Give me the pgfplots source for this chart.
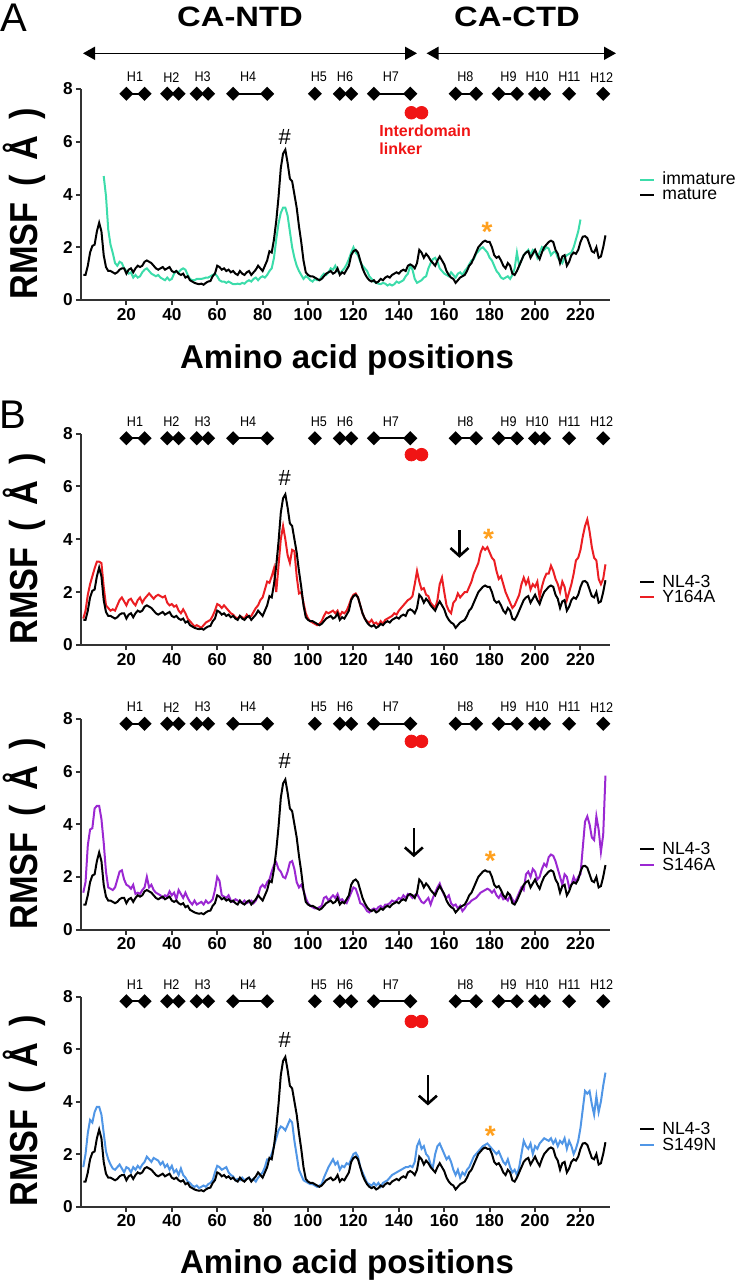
\documentclass[border=0pt]{standalone}
\usepackage{pgfplots}
\pgfplotsset{compat=1.18}
\usepackage{pgfplotstable}
\usepackage{fontspec}
\setmainfont{Liberation Sans}
\usepackage{graphicx}
\usetikzlibrary{arrows.meta}

\definecolor{tealc}{RGB}{60,220,170}
\definecolor{mutred}{RGB}{235,30,35}
\definecolor{mutpurple}{RGB}{155,40,210}
\definecolor{mutblue}{RGB}{80,150,230}
\definecolor{starorange}{RGB}{255,160,30}
\definecolor{axgray}{RGB}{50,50,50}
\definecolor{linkred}{RGB}{240,20,20}

\pgfplotstableread[row sep=\\]{
x y\\
1 0.95\\ 2 0.95\\ 3 1.3\\ 4 1.8\\ 5 2.05\\ 6 2.1\\ 7 2.6\\ 8 2.93\\ 9 2.6\\ 10 1.7\\
11 1.25\\ 12 1.1\\ 13 1.1\\ 14 1.05\\ 15 1.0\\ 16 1.05\\ 17 1.15\\ 18 1.2\\ 19 1.2\\ 20 1.0\\
21 1.15\\ 22 1.2\\ 23 1.05\\ 24 1.2\\ 25 1.3\\ 26 1.25\\ 27 1.3\\ 28 1.45\\ 29 1.5\\ 30 1.45\\
31 1.4\\ 32 1.3\\ 33 1.2\\ 34 1.15\\ 35 1.2\\ 36 1.25\\ 37 1.15\\ 38 1.2\\ 39 1.25\\ 40 1.1\\
41 1.05\\ 42 1.1\\ 43 1.0\\ 44 0.95\\ 45 1.0\\ 46 0.85\\ 47 0.9\\ 48 0.75\\ 49 0.7\\ 50 0.65\\
51 0.62\\ 52 0.6\\ 53 0.62\\ 54 0.58\\ 55 0.65\\ 56 0.7\\ 57 0.72\\ 58 0.9\\ 59 1.0\\ 60 1.3\\
61 1.25\\ 62 1.15\\ 63 1.2\\ 64 1.1\\ 65 1.15\\ 66 1.05\\ 67 1.1\\ 68 1.0\\ 69 0.95\\ 70 1.1\\
71 1.0\\ 72 0.95\\ 73 1.05\\ 74 1.1\\ 75 0.95\\ 76 1.05\\ 77 1.15\\ 78 1.3\\ 79 1.2\\ 80 1.1\\
81 1.3\\ 82 1.5\\ 83 1.85\\ 84 1.8\\ 85 2.3\\ 86 3.0\\ 87 3.9\\ 88 5.0\\ 89 5.55\\ 90 5.7\\
91 5.2\\ 92 4.6\\ 93 4.5\\ 94 4.0\\ 95 3.5\\ 96 2.8\\ 97 2.2\\ 98 1.5\\ 99 1.05\\ 100 0.95\\
101 0.9\\ 102 0.9\\ 103 0.85\\ 104 0.8\\ 105 0.75\\ 106 0.8\\ 107 0.9\\ 108 1.0\\ 109 1.05\\ 110 1.1\\
111 1.0\\ 112 1.05\\ 113 1.2\\ 114 0.95\\ 115 1.05\\ 116 1.0\\ 117 1.15\\ 118 1.3\\ 119 1.7\\ 120 1.85\\
121 1.9\\ 122 1.8\\ 123 1.5\\ 124 1.2\\ 125 1.0\\ 126 0.85\\ 127 0.75\\ 128 0.7\\ 129 0.75\\ 130 0.65\\
131 0.7\\ 132 0.8\\ 133 0.75\\ 134 0.85\\ 135 0.9\\ 136 0.85\\ 137 0.95\\ 138 1.0\\ 139 1.05\\ 140 1.0\\
141 1.1\\ 142 1.15\\ 143 1.1\\ 144 1.3\\ 145 1.35\\ 146 1.3\\ 147 1.2\\ 148 1.4\\ 149 1.9\\ 150 1.8\\
151 1.6\\ 152 1.75\\ 153 1.65\\ 154 1.5\\ 155 1.4\\ 156 1.3\\ 157 1.5\\ 158 1.65\\ 159 1.5\\ 160 1.35\\
161 1.1\\ 162 0.95\\ 163 0.85\\ 164 0.8\\ 165 0.65\\ 166 0.75\\ 167 0.85\\ 168 0.9\\ 169 0.95\\ 170 1.1\\
171 1.3\\ 172 1.4\\ 173 1.6\\ 174 1.8\\ 175 2.0\\ 176 2.1\\ 177 2.2\\ 178 2.25\\ 179 2.2\\ 180 2.2\\
181 2.0\\ 182 1.7\\ 183 1.6\\ 184 1.65\\ 185 1.5\\ 186 1.3\\ 187 1.2\\ 188 1.4\\ 189 1.3\\ 190 1.0\\
191 0.95\\ 192 1.1\\ 193 1.3\\ 194 1.5\\ 195 1.7\\ 196 1.8\\ 197 1.85\\ 198 1.6\\ 199 1.75\\ 200 1.9\\
201 1.7\\ 202 1.55\\ 203 1.8\\ 204 2.0\\ 205 2.1\\ 206 2.2\\ 207 2.25\\ 208 2.2\\ 209 1.9\\ 210 1.75\\
211 1.4\\ 212 1.65\\ 213 1.7\\ 214 1.3\\ 215 1.45\\ 216 1.7\\ 217 1.8\\ 218 1.75\\ 219 1.9\\ 220 2.2\\
221 2.4\\ 222 2.42\\ 223 2.35\\ 224 2.1\\ 225 1.85\\ 226 1.8\\ 227 2.0\\ 228 1.6\\ 229 1.65\\ 230 2.0\\
231 2.45\\
}\tabmature

\pgfplotstableread[row sep=\\]{
x y\\
10 4.7\\ 11 3.95\\ 12 2.67\\ 13 2.1\\ 14 1.78\\ 15 1.4\\ 16 1.3\\ 17 1.45\\ 18 1.4\\ 19 1.2\\ 20 1.1\\
21 1.0\\ 22 1.05\\ 23 0.85\\ 24 0.95\\ 25 0.85\\ 26 0.9\\ 27 1.05\\ 28 1.15\\ 29 1.2\\ 30 1.1\\
31 1.0\\ 32 0.95\\ 33 0.9\\ 34 0.95\\ 35 0.85\\ 36 0.8\\ 37 0.75\\ 38 0.85\\ 39 0.75\\ 40 0.8\\
41 1.0\\ 42 1.1\\ 43 1.05\\ 44 1.15\\ 45 1.2\\ 46 1.15\\ 47 0.95\\ 48 0.8\\ 49 0.75\\ 50 0.75\\
51 0.8\\ 52 0.8\\ 53 0.8\\ 54 0.82\\ 55 0.85\\ 56 0.85\\ 57 0.9\\ 58 0.95\\ 59 1.0\\ 60 0.9\\
61 0.75\\ 62 0.7\\ 63 0.7\\ 64 0.65\\ 65 0.7\\ 66 0.65\\ 67 0.6\\ 68 0.6\\ 69 0.62\\ 70 0.6\\
71 0.65\\ 72 0.62\\ 73 0.7\\ 74 0.75\\ 75 0.7\\ 76 0.8\\ 77 0.85\\ 78 0.75\\ 79 0.85\\ 80 0.9\\
81 0.85\\ 82 0.95\\ 83 1.1\\ 84 1.2\\ 85 1.6\\ 86 2.3\\ 87 2.9\\ 88 3.3\\ 89 3.5\\ 90 3.5\\
91 3.2\\ 92 2.6\\ 93 2.0\\ 94 1.6\\ 95 1.3\\ 96 1.1\\ 97 0.95\\ 98 0.8\\ 99 0.9\\ 100 0.85\\
101 0.75\\ 102 0.7\\ 103 0.8\\ 104 0.75\\ 105 0.75\\ 106 0.9\\ 107 1.0\\ 108 0.95\\ 109 1.05\\ 110 1.2\\
111 1.15\\ 112 1.3\\ 113 1.1\\ 114 1.0\\ 115 1.1\\ 116 1.2\\ 117 1.35\\ 118 1.55\\ 119 1.8\\ 120 2.0\\
121 1.8\\ 122 1.7\\ 123 1.45\\ 124 1.3\\ 125 1.2\\ 126 1.1\\ 127 0.9\\ 128 0.8\\ 129 0.7\\ 130 0.65\\
131 0.62\\ 132 0.6\\ 133 0.65\\ 134 0.62\\ 135 0.55\\ 136 0.6\\ 137 0.55\\ 138 0.6\\ 139 0.7\\ 140 0.65\\
141 0.7\\ 142 0.75\\ 143 0.9\\ 144 1.0\\ 145 1.3\\ 146 1.15\\ 147 0.8\\ 148 0.65\\ 149 0.7\\ 150 0.75\\
151 0.85\\ 152 0.9\\ 153 1.2\\ 154 1.4\\ 155 1.55\\ 156 1.6\\ 157 1.45\\ 158 1.2\\ 159 1.1\\ 160 1.0\\
161 0.95\\ 162 0.9\\ 163 1.05\\ 164 0.95\\ 165 0.85\\ 166 1.0\\ 167 1.05\\ 168 0.95\\ 169 1.1\\ 170 1.2\\
171 1.35\\ 172 1.5\\ 173 1.55\\ 174 1.75\\ 175 1.85\\ 176 1.95\\ 177 2.0\\ 178 1.9\\ 179 1.8\\ 180 1.6\\
181 1.5\\ 182 1.3\\ 183 1.1\\ 184 1.0\\ 185 0.85\\ 186 0.8\\ 187 0.85\\ 188 0.9\\ 189 0.8\\ 190 0.95\\
191 1.2\\ 192 1.8\\ 193 1.3\\ 194 1.5\\ 195 1.7\\ 196 1.8\\ 197 1.9\\ 198 1.7\\ 199 1.9\\ 200 1.85\\
201 1.6\\ 202 1.8\\ 203 2.0\\ 204 1.9\\ 205 2.0\\ 206 1.95\\ 207 1.7\\ 208 1.8\\ 209 1.85\\ 210 1.6\\
211 1.5\\ 212 1.4\\ 213 1.6\\ 214 1.7\\ 215 1.75\\ 216 1.8\\ 217 2.0\\ 218 2.3\\ 219 2.6\\ 220 3.05\\
}\tabimmature

\pgfplotstableread[row sep=\\]{
x y\\
1 1.0\\ 2 1.3\\ 3 1.9\\ 4 2.3\\ 5 2.6\\ 6 2.9\\ 7 3.15\\ 8 3.15\\ 9 3.1\\ 10 2.2\\
11 1.5\\ 12 1.4\\ 13 1.3\\ 14 1.35\\ 15 1.3\\ 16 1.5\\ 17 1.7\\ 18 1.8\\ 19 1.65\\ 20 1.5\\
21 1.7\\ 22 1.75\\ 23 1.6\\ 24 1.5\\ 25 1.7\\ 26 1.8\\ 27 1.6\\ 28 1.75\\ 29 1.85\\ 30 1.95\\
31 1.85\\ 32 1.75\\ 33 1.85\\ 34 1.9\\ 35 1.85\\ 36 1.8\\ 37 1.85\\ 38 1.6\\ 39 1.5\\ 40 1.55\\
41 1.45\\ 42 1.5\\ 43 1.3\\ 44 1.2\\ 45 1.35\\ 46 1.2\\ 47 1.0\\ 48 0.9\\ 49 0.8\\ 50 0.7\\
51 0.75\\ 52 0.7\\ 53 0.65\\ 54 0.75\\ 55 0.85\\ 56 0.9\\ 57 0.95\\ 58 1.1\\ 59 1.3\\ 60 1.55\\
61 1.5\\ 62 1.4\\ 63 1.5\\ 64 1.4\\ 65 1.3\\ 66 1.2\\ 67 1.15\\ 68 1.05\\ 69 1.0\\ 70 1.1\\
71 1.05\\ 72 1.0\\ 73 1.15\\ 74 1.05\\ 75 1.1\\ 76 1.25\\ 77 1.4\\ 78 1.5\\ 79 1.7\\ 80 1.8\\
81 2.1\\ 82 2.4\\ 83 2.35\\ 84 2.6\\ 85 2.9\\ 86 2.0\\ 87 3.0\\ 88 4.0\\ 89 4.5\\ 90 4.0\\
91 3.4\\ 92 3.1\\ 93 3.6\\ 94 3.55\\ 95 2.6\\ 96 1.95\\ 97 2.0\\ 98 1.6\\ 99 1.2\\ 100 1.0\\
101 0.9\\ 102 0.85\\ 103 0.8\\ 104 0.75\\ 105 0.8\\ 106 0.9\\ 107 1.1\\ 108 1.25\\ 109 1.2\\ 110 1.25\\
111 1.3\\ 112 1.2\\ 113 1.3\\ 114 1.1\\ 115 1.25\\ 116 1.2\\ 117 1.3\\ 118 1.5\\ 119 1.75\\ 120 1.9\\
121 1.95\\ 122 1.8\\ 123 1.5\\ 124 1.2\\ 125 1.0\\ 126 0.9\\ 127 0.85\\ 128 0.95\\ 129 0.8\\ 130 0.85\\
131 0.75\\ 132 0.9\\ 133 0.8\\ 134 0.95\\ 135 1.0\\ 136 1.05\\ 137 1.1\\ 138 1.2\\ 139 1.15\\ 140 1.3\\
141 1.4\\ 142 1.5\\ 143 1.6\\ 144 1.7\\ 145 1.75\\ 146 1.85\\ 147 2.3\\ 148 2.8\\ 149 2.4\\ 150 2.1\\
151 2.15\\ 152 1.9\\ 153 1.85\\ 154 1.6\\ 155 1.5\\ 156 1.4\\ 157 1.7\\ 158 2.3\\ 159 2.55\\ 160 2.0\\
161 1.5\\ 162 1.3\\ 163 1.2\\ 164 1.6\\ 165 1.7\\ 166 1.95\\ 167 1.8\\ 168 1.9\\ 169 2.0\\ 170 2.0\\
171 2.2\\ 172 2.4\\ 173 2.7\\ 174 2.9\\ 175 3.1\\ 176 3.5\\ 177 3.7\\ 178 3.6\\ 179 3.7\\ 180 3.5\\
181 3.3\\ 182 3.2\\ 183 2.8\\ 184 2.5\\ 185 2.6\\ 186 2.3\\ 187 2.0\\ 188 1.8\\ 189 1.6\\ 190 1.4\\
191 1.5\\ 192 1.7\\ 193 1.9\\ 194 2.3\\ 195 2.55\\ 196 2.3\\ 197 2.5\\ 198 2.1\\ 199 2.3\\ 200 2.2\\
201 2.4\\ 202 1.8\\ 203 2.2\\ 204 2.5\\ 205 2.7\\ 206 2.7\\ 207 3.0\\ 208 2.8\\ 209 2.5\\ 210 2.3\\
211 2.0\\ 212 2.4\\ 213 2.2\\ 214 1.7\\ 215 2.0\\ 216 2.3\\ 217 2.7\\ 218 3.2\\ 219 3.3\\ 220 3.6\\
221 4.1\\ 222 4.5\\ 223 4.75\\ 224 4.3\\ 225 3.7\\ 226 3.3\\ 227 3.2\\ 228 2.5\\ 229 2.3\\ 230 2.5\\
231 3.05\\
}\tabYsixfour

\pgfplotstableread[row sep=\\]{
x y\\
1 1.4\\ 2 1.8\\ 3 3.2\\ 4 3.8\\ 5 3.85\\ 6 4.6\\ 7 4.7\\ 8 4.7\\ 9 4.2\\ 10 3.3\\
11 2.2\\ 12 1.6\\ 13 1.55\\ 14 1.5\\ 15 1.6\\ 16 1.9\\ 17 2.2\\ 18 2.25\\ 19 1.9\\ 20 1.7\\
21 1.65\\ 22 1.55\\ 23 1.7\\ 24 1.35\\ 25 1.4\\ 26 1.35\\ 27 1.5\\ 28 1.6\\ 29 2.0\\ 30 1.6\\
31 1.7\\ 32 1.5\\ 33 1.4\\ 34 1.35\\ 35 1.3\\ 36 1.2\\ 37 1.3\\ 38 1.25\\ 39 1.45\\ 40 1.3\\
41 1.4\\ 42 1.15\\ 43 1.5\\ 44 1.35\\ 45 1.2\\ 46 1.4\\ 47 1.2\\ 48 1.05\\ 49 0.95\\ 50 1.1\\
51 0.95\\ 52 1.0\\ 53 1.05\\ 54 0.95\\ 55 1.1\\ 56 1.0\\ 57 1.05\\ 58 1.15\\ 59 1.5\\ 60 2.0\\
61 1.85\\ 62 1.3\\ 63 1.25\\ 64 1.2\\ 65 1.3\\ 66 1.1\\ 67 1.05\\ 68 1.15\\ 69 1.1\\ 70 1.05\\
71 1.0\\ 72 1.1\\ 73 1.0\\ 74 1.05\\ 75 1.1\\ 76 1.0\\ 77 1.1\\ 78 1.3\\ 79 1.6\\ 80 1.7\\
81 1.6\\ 82 1.8\\ 83 1.9\\ 84 2.2\\ 85 2.45\\ 86 2.55\\ 87 2.3\\ 88 2.2\\ 89 2.0\\ 90 1.95\\
91 2.2\\ 92 2.55\\ 93 2.6\\ 94 2.3\\ 95 1.8\\ 96 1.6\\ 97 1.7\\ 98 1.5\\ 99 1.2\\ 100 1.0\\
101 0.9\\ 102 0.85\\ 103 0.8\\ 104 0.8\\ 105 0.85\\ 106 0.9\\ 107 1.2\\ 108 1.25\\ 109 1.1\\ 110 1.2\\
111 1.3\\ 112 1.2\\ 113 1.35\\ 114 1.1\\ 115 1.15\\ 116 1.05\\ 117 1.0\\ 118 1.2\\ 119 1.4\\ 120 1.6\\
121 1.55\\ 122 1.3\\ 123 1.0\\ 124 0.95\\ 125 0.85\\ 126 0.7\\ 127 0.65\\ 128 0.75\\ 129 0.8\\ 130 0.75\\
131 0.85\\ 132 0.9\\ 133 0.8\\ 134 0.95\\ 135 0.95\\ 136 1.0\\ 137 1.1\\ 138 1.05\\ 139 1.1\\ 140 1.2\\
141 1.15\\ 142 1.3\\ 143 1.2\\ 144 1.35\\ 145 1.3\\ 146 1.2\\ 147 1.3\\ 148 1.35\\ 149 1.2\\ 150 1.05\\
151 1.0\\ 152 1.1\\ 153 1.2\\ 154 0.95\\ 155 1.2\\ 156 1.4\\ 157 1.6\\ 158 1.75\\ 159 1.5\\ 160 1.3\\
161 1.2\\ 162 1.3\\ 163 1.0\\ 164 0.9\\ 165 0.95\\ 166 0.8\\ 167 0.9\\ 168 0.7\\ 169 0.8\\ 170 0.95\\
171 1.0\\ 172 1.1\\ 173 1.15\\ 174 1.2\\ 175 1.3\\ 176 1.4\\ 177 1.45\\ 178 1.5\\ 179 1.55\\ 180 1.5\\
181 1.4\\ 182 1.5\\ 183 1.3\\ 184 1.2\\ 185 1.35\\ 186 1.15\\ 187 1.2\\ 188 1.1\\ 189 1.3\\ 190 1.15\\
191 1.0\\ 192 1.2\\ 193 1.4\\ 194 1.6\\ 195 1.5\\ 196 2.1\\ 197 2.2\\ 198 2.0\\ 199 2.3\\ 200 2.2\\
201 1.9\\ 202 2.0\\ 203 2.3\\ 204 2.5\\ 205 2.4\\ 206 2.75\\ 207 2.85\\ 208 2.8\\ 209 2.6\\ 210 2.3\\
211 2.0\\ 212 1.7\\ 213 2.1\\ 214 2.0\\ 215 1.6\\ 216 1.7\\ 217 2.0\\ 218 1.8\\ 219 2.0\\ 220 2.1\\
221 3.1\\ 222 4.1\\ 223 4.3\\ 224 4.0\\ 225 3.5\\ 226 3.4\\ 227 4.3\\ 228 3.8\\ 229 2.95\\ 230 3.6\\
231 5.85\\
}\tabSfoursix

\pgfplotstableread[row sep=\\]{
x y\\
1 1.5\\ 2 2.0\\ 3 2.8\\ 4 3.3\\ 5 3.2\\ 6 3.6\\ 7 3.8\\ 8 3.8\\ 9 3.5\\ 10 2.8\\
11 2.1\\ 12 1.8\\ 13 1.6\\ 14 1.45\\ 15 1.4\\ 16 1.5\\ 17 1.6\\ 18 1.45\\ 19 1.3\\ 20 1.5\\
21 1.45\\ 22 1.3\\ 23 1.5\\ 24 1.4\\ 25 1.55\\ 26 1.45\\ 27 1.6\\ 28 1.7\\ 29 1.9\\ 30 1.8\\
31 1.7\\ 32 1.85\\ 33 1.8\\ 34 1.75\\ 35 1.6\\ 36 1.7\\ 37 1.5\\ 38 1.6\\ 39 1.4\\ 40 1.55\\
41 1.3\\ 42 1.4\\ 43 1.2\\ 44 1.45\\ 45 1.2\\ 46 1.1\\ 47 0.95\\ 48 0.9\\ 49 0.8\\ 50 0.75\\
51 0.8\\ 52 0.7\\ 53 0.75\\ 54 0.8\\ 55 0.75\\ 56 0.85\\ 57 0.9\\ 58 1.0\\ 59 1.3\\ 60 1.55\\
61 1.5\\ 62 1.4\\ 63 1.45\\ 64 1.5\\ 65 1.3\\ 66 1.2\\ 67 1.15\\ 68 1.0\\ 69 1.05\\ 70 1.0\\
71 1.1\\ 72 1.0\\ 73 1.05\\ 74 1.1\\ 75 1.0\\ 76 1.05\\ 77 0.95\\ 78 1.1\\ 79 1.2\\ 80 1.3\\
81 1.5\\ 82 1.8\\ 83 1.8\\ 84 2.0\\ 85 2.3\\ 86 2.6\\ 87 2.9\\ 88 3.05\\ 89 3.0\\ 90 2.9\\
91 3.1\\ 92 3.3\\ 93 3.2\\ 94 2.5\\ 95 1.95\\ 96 1.4\\ 97 1.2\\ 98 1.0\\ 99 0.95\\ 100 0.9\\
101 0.85\\ 102 0.85\\ 103 0.8\\ 104 0.75\\ 105 0.8\\ 106 0.85\\ 107 1.1\\ 108 1.3\\ 109 1.5\\ 110 1.65\\
111 1.8\\ 112 1.6\\ 113 1.7\\ 114 1.4\\ 115 1.55\\ 116 1.5\\ 117 1.65\\ 118 1.6\\ 119 1.8\\ 120 2.0\\
121 2.05\\ 122 1.9\\ 123 1.5\\ 124 1.3\\ 125 1.1\\ 126 0.9\\ 127 0.85\\ 128 0.8\\ 129 0.9\\ 130 0.8\\
131 0.9\\ 132 0.75\\ 133 0.9\\ 134 0.95\\ 135 1.0\\ 136 1.1\\ 137 1.2\\ 138 1.25\\ 139 1.3\\ 140 1.35\\
141 1.4\\ 142 1.45\\ 143 1.5\\ 144 1.5\\ 145 1.55\\ 146 1.5\\ 147 1.7\\ 148 2.3\\ 149 2.5\\ 150 2.2\\
151 2.3\\ 152 2.0\\ 153 1.9\\ 154 1.6\\ 155 1.5\\ 156 2.0\\ 157 2.3\\ 158 2.4\\ 159 2.2\\ 160 2.0\\
161 1.8\\ 162 1.9\\ 163 1.7\\ 164 1.4\\ 165 1.2\\ 166 1.4\\ 167 1.1\\ 168 1.3\\ 169 1.2\\ 170 1.4\\
171 1.5\\ 172 1.7\\ 173 1.9\\ 174 2.0\\ 175 2.1\\ 176 2.2\\ 177 2.3\\ 178 2.35\\ 179 2.4\\ 180 2.3\\
181 2.2\\ 182 2.1\\ 183 2.0\\ 184 2.1\\ 185 1.9\\ 186 1.7\\ 187 1.6\\ 188 1.8\\ 189 1.5\\ 190 1.3\\
191 1.4\\ 192 1.2\\ 193 1.5\\ 194 2.0\\ 195 2.5\\ 196 2.3\\ 197 2.2\\ 198 2.4\\ 199 2.0\\ 200 2.3\\
201 2.2\\ 202 2.4\\ 203 2.5\\ 204 2.6\\ 205 2.55\\ 206 2.5\\ 207 2.6\\ 208 2.4\\ 209 2.55\\ 210 2.3\\
211 2.5\\ 212 2.4\\ 213 2.6\\ 214 2.2\\ 215 2.5\\ 216 2.3\\ 217 2.0\\ 218 2.2\\ 219 2.5\\ 220 3.0\\
221 3.7\\ 222 4.4\\ 223 4.3\\ 224 4.4\\ 225 3.9\\ 226 3.5\\ 227 4.2\\ 228 3.6\\ 229 4.0\\ 230 4.6\\
231 5.1\\
}\tabSfournine

\pgfplotsset{
  rmsf/.style={
    scale only axis, width=264.5pt, height=105.5pt,
    xmin=0, xmax=233, ymin=0, ymax=8,
    axis x line=bottom, axis y line=left,
    axis line style={-, line width=1pt, color=axgray},
    every tick/.style={line width=1pt, color=axgray},
    tick align=outside, major tick length=2.5pt,
    xtick={20,40,...,220}, ytick={0,2,4,6,8},
    /pgf/number format/assume math mode=true,
    tick label style={font=\fontsize{8.6}{9}\selectfont\bfseries, inner sep=1.5pt},
    clip=false,
  },
  curve/.style={line width=1pt, no marks},
  helix/.style={black, line width=1pt, mark=square*, mark size=2pt, mark options={rotate=45, solid, fill=black}},
}
\tikzset{hl/.style={font=\fontsize{7}{8}\selectfont, inner sep=0pt}}

\newcommand\helices{%
\addplot[helix] coordinates {(20,7.82) (28,7.82)};
\addplot[helix] coordinates {(38,7.82) (43,7.82)};
\addplot[helix] coordinates {(51,7.82) (56,7.82)};
\addplot[helix] coordinates {(67,7.82) (82,7.82)};
\addplot[helix] coordinates {(103,7.82)};
\addplot[helix] coordinates {(114,7.82) (119,7.82)};
\addplot[helix] coordinates {(129,7.82) (145,7.82)};
\addplot[helix] coordinates {(165,7.82) (174,7.82)};
\addplot[helix] coordinates {(184,7.82) (192,7.82)};
\addplot[helix] coordinates {(200,7.82) (204,7.82)};
\addplot[helix] coordinates {(215,7.82)};
\addplot[helix] coordinates {(230,7.82)};
\node[hl] at (axis cs:23.8,8.45) {\scalebox{0.9}[1]{H1}};
\node[hl] at (axis cs:39.8,8.45) {\scalebox{0.9}[1]{H2}};
\node[hl] at (axis cs:53.6,8.45) {\scalebox{0.9}[1]{H3}};
\node[hl] at (axis cs:73.6,8.45) {\scalebox{0.9}[1]{H4}};
\node[hl] at (axis cs:104.8,8.45) {\scalebox{0.9}[1]{H5}};
\node[hl] at (axis cs:116.3,8.45) {\scalebox{0.9}[1]{H6}};
\node[hl] at (axis cs:136.5,8.45) {\scalebox{0.9}[1]{H7}};
\node[hl] at (axis cs:169.3,8.45) {\scalebox{0.9}[1]{H8}};
\node[hl] at (axis cs:188.3,8.45) {\scalebox{0.9}[1]{H9}};
\node[hl] at (axis cs:200.9,8.45) {\scalebox{0.9}[1]{H10}};
\node[hl] at (axis cs:215.1,8.45) {\scalebox{0.9}[1]{H11}};
\node[hl] at (axis cs:229.3,8.45) {\scalebox{0.9}[1]{H12}};
}
\newcommand\linkerdots[1]{%
\addplot[only marks, mark=*, mark size=3.15pt, color=linkred] coordinates {(145.5,#1) (150,#1)};
}
\newcommand\hashmark[1]{\node[font=\fontsize{11}{11}\selectfont, inner sep=0pt] at (axis cs:89.7,#1) {\#};}
\newcommand\astmark[2]{\node[font=\fontsize{14}{14}\selectfont\bfseries, text=starorange, inner sep=0pt, yshift=-3pt] at (axis cs:#1,#2) {*};}
\newcommand\darrow[3]{\draw[black, line width=1.3pt, -{Straight Barb[length=4pt,width=9pt,line width=1.3pt]}] (axis cs:#1,#2) -- (axis cs:#1,#3);}

\newcommand\ylab[1]{\node[rotate=90, anchor=base, font=\fontsize{19.5}{20}\selectfont\bfseries] at (19pt,#1) {\scalebox{0.88}[1]{RMSF\hspace{0.45em}(\hspace{0.45em}Å\hspace{0.45em})}};}
\newcommand\legline[2]{\draw[line width=1pt, #1] (320pt,#2) -- (327pt,#2);}
\newcommand\legtext[2]{\node[anchor=base west, inner sep=0pt, font=\fontsize{8.8}{10}\selectfont] at (331pt,#1) {#2};}

\begin{document}
\begin{tikzpicture}
\path[use as bounding box] (0,0) rectangle (375pt,-640.5pt);

% ---------- Panel A ----------
\node[font=\fontsize{20}{20}\selectfont, inner sep=0pt] at (7pt,-9pt) {A};
\node[font=\fontsize{14}{15}\selectfont\bfseries, inner sep=0pt] at (120pt,-8.5pt) {\scalebox{1.17}[1]{CA-NTD}};
\node[font=\fontsize{14}{15}\selectfont\bfseries, inner sep=0pt] at (258.5pt,-8.5pt) {\scalebox{1.17}[1]{CA-CTD}};
\draw[line width=0.8pt, {Triangle[length=6pt,width=6.5pt]}-{Triangle[length=6pt,width=6.5pt]}] (41.5pt,-26.65pt) -- (208.5pt,-26.65pt);
\draw[line width=0.8pt, {Triangle[length=6pt,width=6.5pt]}-{Triangle[length=6pt,width=6.5pt]}] (213.3pt,-26.65pt) -- (308pt,-26.65pt);

\begin{axis}[rmsf, at={(40.5pt,-150pt)}, anchor=south west, height=105.5pt]
\addplot[curve, color=tealc] table {\tabimmature};
\addplot[curve, color=black] table {\tabmature};
\helices
\linkerdots{7.1}
\hashmark{6.2}
\astmark{178.9}{2.8}
\end{axis}
\node[anchor=base west, inner sep=0pt, text=linkred, font=\fontsize{8}{9}\selectfont\bfseries] at (189.5pt,-68pt) {Interdomain};
\node[anchor=base west, inner sep=0pt, text=linkred, font=\fontsize{8}{9}\selectfont\bfseries] at (189.5pt,-77pt) {linker};
\ylab{-102pt}
\node[anchor=base, inner sep=0pt, font=\fontsize{16.5}{17}\selectfont\bfseries] at (173.5pt,-184.25pt) {Amino acid positions};
\legline{tealc}{-89.75pt}
\legline{black}{-97.25pt}
\legtext{-92.25pt}{immature}
\legtext{-99.75pt}{mature}

% ---------- Panel B1 ----------
\node[font=\fontsize{20}{20}\selectfont, inner sep=0pt] at (6.5pt,-207.5pt) {B};
\begin{axis}[rmsf, at={(40.5pt,-322.5pt)}, anchor=south west, height=105.75pt]
\addplot[curve, color=mutred] table {\tabYsixfour};
\addplot[curve, color=black] table {\tabmature};
\helices
\linkerdots{7.2}
\hashmark{6.3}
\astmark{179.5}{4.25}
\darrow{166.7}{4.35}{3.3}
\end{axis}
\ylab{-274.5pt}
\legline{black}{-291pt}
\legline{mutred}{-298.5pt}
\legtext{-293.5pt}{NL4-3}
\legtext{-301pt}{Y164A}

% ---------- Panel B2 ----------
\begin{axis}[rmsf, at={(40.5pt,-464.75pt)}, anchor=south west, height=105.25pt]
\addplot[curve, color=mutpurple] table {\tabSfoursix};
\addplot[curve, color=black] table {\tabmature};
\helices
\linkerdots{7.15}
\hashmark{6.4}
\astmark{180.3}{2.84}
\darrow{146.6}{3.85}{2.75}
\end{axis}
\ylab{-417pt}
\legline{black}{-424.5pt}
\legline{mutpurple}{-432.5pt}
\legtext{-427pt}{NL4-3}
\legtext{-435pt}{S146A}

% ---------- Panel B3 ----------
\begin{axis}[rmsf, at={(40.5pt,-603.25pt)}, anchor=south west, height=105pt]
\addplot[curve, color=mutblue] table {\tabSfournine};
\addplot[curve, color=black] table {\tabmature};
\helices
\linkerdots{7.05}
\hashmark{6.35}
\astmark{180.3}{2.92}
\darrow{152.8}{5.0}{3.85}
\end{axis}
\ylab{-555.5pt}
\node[anchor=base, inner sep=0pt, font=\fontsize{16.5}{17}\selectfont\bfseries] at (173.5pt,-636.5pt) {Amino acid positions};
\legline{black}{-564.5pt}
\legline{mutblue}{-572.5pt}
\legtext{-567pt}{NL4-3}
\legtext{-575pt}{S149N}
\end{tikzpicture}
\end{document}
